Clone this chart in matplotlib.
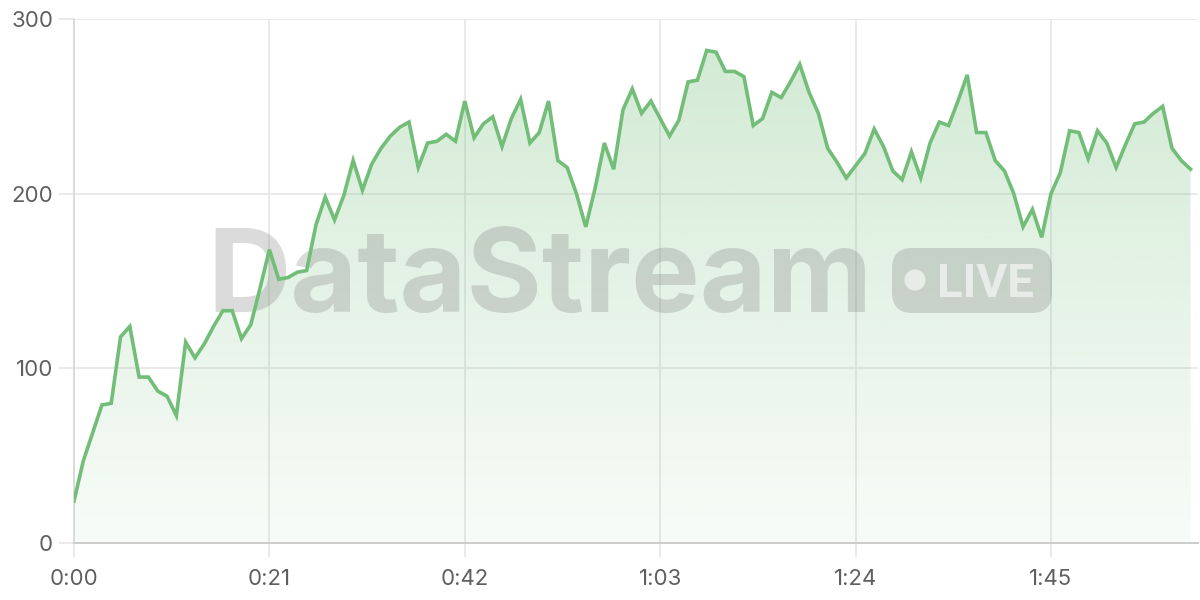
import matplotlib
matplotlib.use("Agg")
import matplotlib.pyplot as plt
import numpy as np
from matplotlib.patches import FancyBboxPatch, Circle
from matplotlib.ticker import FuncFormatter

# ---- data (one value per second) ----
values = [24, 47, 63, 79, 80, 118, 124, 95, 95, 87,
          84, 73, 115, 106, 114, 124, 133, 133, 117, 125,
          146, 168, 151, 152, 155, 156, 182, 198, 185, 199,
          219, 202, 217, 226, 233, 238, 241, 215, 229, 230,
          234, 230, 253, 232, 240, 244, 227, 243, 254, 229,
          235, 253, 219, 215, 200, 181, 203, 229, 214, 248,
          260, 246, 253, 243, 233, 242, 264, 265, 282, 281,
          270, 270, 267, 239, 243, 258, 255, 264, 274, 258,
          246, 226, 218, 209, 216, 223, 237, 227, 213, 208,
          224, 209, 229, 241, 239, 253, 268, 235, 235, 219,
          213, 200, 181, 191, 175, 200, 212, 236, 235, 220,
          236, 229, 215, 228, 240, 241, 246, 250, 226, 219,
          214]
seconds = list(range(len(values)))
x_ticks = [0, 21, 42, 63, 84, 105]
y_ticks = [0, 100, 200, 300]

LINE = "#72bd78"
LABEL = "#5f5f5f"
GRID = "#e6e6e6"

plt.rcParams['font.family'] = ['Inter', 'DejaVu Sans']

fig = plt.figure(figsize=(12, 6), dpi=100)
ax = fig.add_axes([74/1200, 1-543/600, (1198-74)/1200, (543-19)/600])

x = np.array(seconds, dtype=float)
y = np.array(values, dtype=float)

# gradient fill
poly = ax.fill_between(x, 0, y, color='none', lw=0, zorder=1)
grad = np.linspace(0.05, 0.33, 256).reshape(-1, 1)
rgba = np.zeros((256, 1, 4))
c = matplotlib.colors.to_rgb(LINE)
rgba[..., 0], rgba[..., 1], rgba[..., 2] = c
rgba[..., 3] = grad
im = ax.imshow(rgba, extent=[0, x.max(), 0, 300], origin='lower',
               aspect='auto', zorder=1, interpolation='bilinear')
path = poly.get_paths()[0]
im.set_clip_path(path, transform=ax.transData)
ax.set_xlim(0, 120.8)
ax.set_ylim(0, 300)

ax.plot(x, y, color=LINE, lw=2.6, zorder=4, solid_joinstyle='miter')

# axes styling
ax.set_xticks(x_ticks)
ax.set_yticks(y_ticks)
ax.xaxis.set_major_formatter(FuncFormatter(lambda v, p: f"{int(v)//60}:{int(v)%60:02d}"))
ax.grid(True, color=GRID, lw=1.2, zorder=0)
ax.set_axisbelow(True)
for s in ['top', 'right']:
    ax.spines[s].set_visible(False)
ax.spines['left'].set_color('#d6d6d6')
ax.spines['bottom'].set_color('#cccccc')
ax.spines['left'].set_linewidth(1.2)
ax.spines['bottom'].set_linewidth(1.4)
ax.tick_params(axis='y', length=11, width=1.2, color=GRID, pad=4,
               labelsize=16, labelcolor=LABEL)
ax.tick_params(axis='x', length=10, width=1.2, color=GRID, pad=9,
               labelsize=16, labelcolor=LABEL)

# watermark
ax.text(207/1200, 1-312/600, "DataStream", transform=fig.transFigure,
        fontsize=83, fontweight='bold', color='#7a7a7a', alpha=0.27,
        ha='left', va='baseline', zorder=3)
badge = FancyBboxPatch((892/1200, 1-313/600), (1052-892)/1200, (313-248)/600,
                       boxstyle="round,pad=0,rounding_size=0.017",
                       transform=fig.transFigure, facecolor='#7a7a7a',
                       edgecolor='none', alpha=0.27, zorder=3,
                       mutation_aspect=2)
fig.add_artist(badge)
dot = Circle((915/100, (600-280)/100), 10.5/100, transform=fig.dpi_scale_trans,
             facecolor='white', alpha=0.6, edgecolor='none', zorder=3)
fig.add_artist(dot)
fig.text(937/1200, 1-297/600, "LIVE", fontsize=34, fontweight='bold',
         color='white', alpha=0.6, ha='left', va='baseline',
         family=['Roboto', 'DejaVu Sans'], zorder=3)

fig.savefig("out.png", dpi=100, facecolor='white')
